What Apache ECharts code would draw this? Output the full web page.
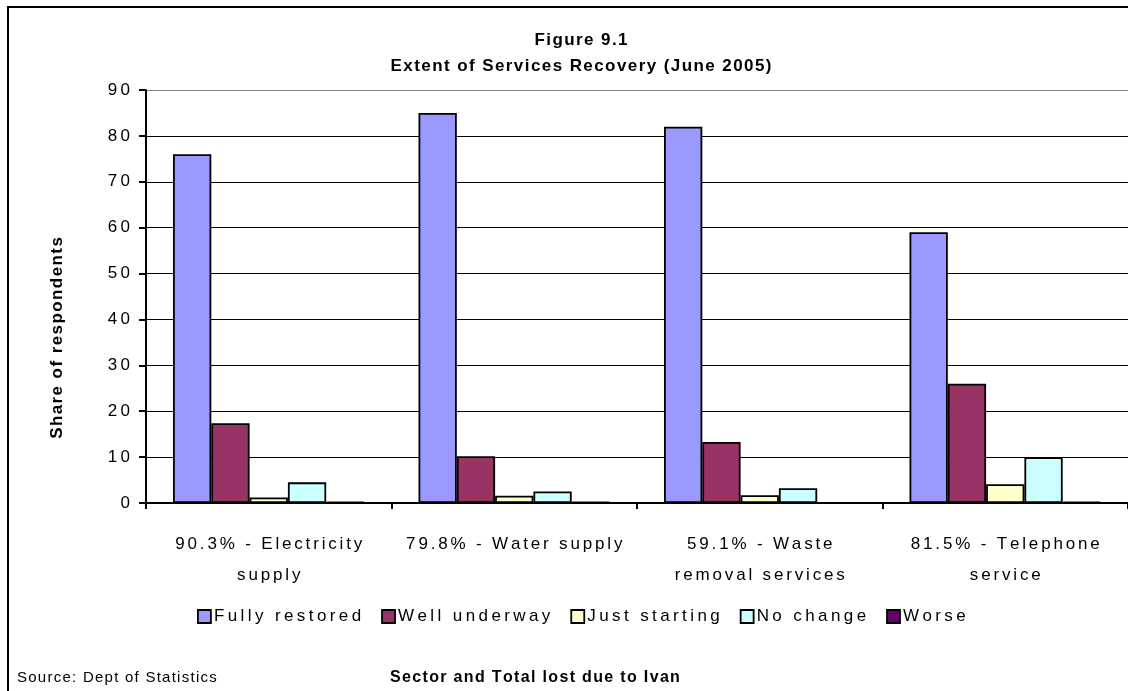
<!DOCTYPE html>
<html>
<head>
<meta charset="utf-8">
<script src="https://cdn.jsdelivr.net/npm/echarts@6/dist/echarts.min.js"></script>
<style>
  html, body { margin: 0; padding: 0; background: #fff; }
  #main { width: 1128px; height: 691px; }
</style>
</head>
<body>
<div id="main"></div>
<script>
// data
var sectors = ['90.3% - Electricity\nsupply', '79.8% - Water supply', '59.1% - Waste\nremoval services', '81.5% - Telephone\nservice'];
var statusNames = ['Fully restored', 'Well underway', 'Just starting', 'No change', 'Worse'];
var fullyRestored = [76, 85, 82, 59];
var wellUnderway = [17.4, 10.2, 13.3, 26];
var justStarting = [1.2, 1.6, 1.7, 4.1];
var noChange = [4.5, 2.5, 3.2, 10];
var worse = [0.3, 0.3, 0, 0.3];
var yTicks = [0, 10, 20, 30, 40, 50, 60, 70, 80, 90];

var colors = ['#9999FF', '#993366', '#FFFFCC', '#CCFFFF', '#660066'];
var FONT = '"Liberation Sans", Arial, sans-serif';

// the original spreads its letters out, so we do the same
var HAIR = '\u200a', SIXTH = '\u2006', THIN = '\u2009';
function sp(s, gap) {
    gap = gap || HAIR;
    return s.split('\n').map(function (line) {
        return line.split('').join(gap);
    }).join('\n');
}

var dom = document.getElementById('main');
var myChart = echarts.init(dom, null, {renderer: 'canvas'});

var seriesData = [fullyRestored, wellUnderway, justStarting, noChange, worse];
var series = [];
for (var i = 0; i < statusNames.length; i++) {
    series.push({
        name: statusNames[i],
        type: 'bar',
        data: seriesData[i],
        barGap: '0%',
        barCategoryGap: '22%',
        itemStyle: {color: colors[i], borderColor: '#000', borderWidth: 1.8},
        silent: true
    });
}

var option = {
    animation: false,
    backgroundColor: '#fff',
    textStyle: {fontFamily: FONT},
    title: [{
        text: sp('Figure 9.1') + '\n' + sp('Extent of Services Recovery (June 2005)'),
        left: 576,
        top: 22,
        textAlign: 'center',
        textStyle: {fontFamily: FONT, fontSize: 17, fontWeight: 'bold', color: '#000', lineHeight: 26}
    }, {
        text: sp('Source: Dept of Statistics'),
        left: 12,
        top: 665,
        textStyle: {fontFamily: FONT, fontSize: 15, fontWeight: 'normal', color: '#000'}
    }, {
        text: sp('Sector and Total lost due to Ivan'),
        left: 385,
        top: 665,
        textStyle: {fontFamily: FONT, fontSize: 16, fontWeight: 'bold', color: '#000'}
    }],
    graphic: [{
        type: 'rect',
        shape: {x: 8, y: 7, width: 1200, height: 720},
        style: {fill: 'none', stroke: '#000', lineWidth: 2},
        silent: true
    }, {
        type: 'text',
        x: 57,
        y: 338,
        rotation: Math.PI / 2,
        style: {
            text: sp('Share of respondents'),
            font: 'bold 17px ' + FONT,
            fill: '#000',
            align: 'center',
            verticalAlign: 'middle'
        },
        silent: true
    }],
    legend: {
        data: statusNames,
        top: 603,
        left: 192,
        icon: 'rect',
        itemWidth: 13,
        itemHeight: 13,
        itemGap: 20,
        itemStyle: {borderColor: '#000', borderWidth: 1.8},
        formatter: function (name) { return sp(name, THIN); },
        textStyle: {fontFamily: FONT, fontSize: 17, color: '#000', padding: [0, 0, 0, -2]}
    },
    grid: {left: 146, right: -11, top: 90, bottom: 188},
    xAxis: {
        type: 'category',
        data: sectors,
        axisLine: {lineStyle: {color: '#000', width: 2}},
        axisTick: {show: true, length: 6, lineStyle: {color: '#000', width: 2}},
        axisLabel: {
            interval: 0,
            margin: 26,
            lineHeight: 31,
            color: '#000',
            fontFamily: FONT,
            fontSize: 17,
            formatter: function (v) { return sp(v, SIXTH); }
        }
    },
    yAxis: {
        type: 'value',
        min: yTicks[0],
        max: yTicks[yTicks.length - 1],
        interval: 10,
        axisLine: {show: true, lineStyle: {color: '#000', width: 2}},
        axisTick: {show: true, length: 7, lineStyle: {color: '#000', width: 2}},
        axisLabel: {
            margin: 16,
            color: '#000',
            fontFamily: FONT,
            fontSize: 17,
            formatter: function (v) { return sp(String(v), THIN); }
        },
        splitLine: {
            lineStyle: {
                color: ['#000', '#000', '#000', '#000', '#000', '#000', '#000', '#000', '#000', '#808080'],
                width: 1.2
            }
        }
    },
    series: series
};

if (option && typeof option === "object") {
    myChart.setOption(option, true);
}
</script>
</body>
</html>
